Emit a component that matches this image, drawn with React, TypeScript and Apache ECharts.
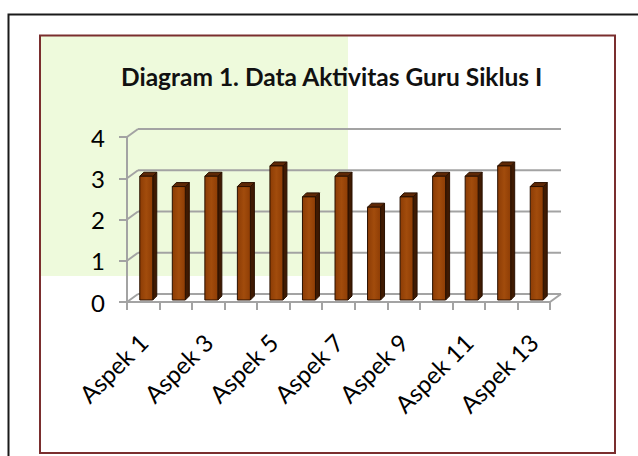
import React, { useEffect, useRef } from "react";
import * as echarts from "echarts";

const categories = [
  "Aspek 1", "Aspek 2", "Aspek 3", "Aspek 4", "Aspek 5", "Aspek 6", "Aspek 7",
  "Aspek 8", "Aspek 9", "Aspek 10", "Aspek 11", "Aspek 12", "Aspek 13",
];
const values = [3, 2.75, 3, 2.75, 3.25, 2.5, 3, 2.25, 2.5, 3, 3, 3.25, 2.75];
const yTicks = [0, 1, 2, 3, 4];
const chartTitle = "Diagram 1. Data Aktivitas Guru Siklus I";

const FONT = "Lato, 'Noto Sans', sans-serif";
const GRID_COLOR = "#a3a3a3";
const DX = 11; // depth offset x
const DY = 8; // depth offset y

export default function App() {
  const ref = useRef<HTMLDivElement>(null);
  useEffect(() => {
    if (!ref.current) return;
    const chart = echarts.init(ref.current, null, { renderer: "svg" });
    const option: any = {
      animation: false,
      backgroundColor: "#ffffff",
      title: {
        text: chartTitle,
        left: 116,
        top: 59,
        textStyle: { fontSize: 24.5, fontWeight: "bold", fontFamily: FONT, color: "#111" },
      },
      graphic: [
        {
          type: "rect",
          z: -20,
          silent: true,
          shape: { x: 8.5, y: 14.5, width: 660, height: 480 },
          style: { fill: "#ffffff", stroke: "#1a1a1a", lineWidth: 2 },
        },
        {
          type: "rect",
          z: -19,
          silent: true,
          shape: { x: 40, y: 35, width: 308, height: 241 },
          style: { fill: "#eefadc" },
        },
        {
          type: "rect",
          z: -18,
          silent: true,
          shape: { x: 40, y: 35.5, width: 575, height: 417.5 },
          style: { fill: "none", stroke: "#7a2e2e", lineWidth: 2 },
        },
      ],
      grid: { left: 127, top: 137, width: 423, height: 165, containLabel: false },
      xAxis: {
        type: "category",
        data: categories,
        boundaryGap: true,
        axisLine: { show: false },
        axisTick: { show: true, interval: 0, length: 8, lineStyle: { color: GRID_COLOR, width: 2 } },
        axisLabel: {
          interval: 1,
          rotate: 45,
          margin: 36,
          fontSize: 24,
          fontFamily: FONT,
          color: "#000",
        },
        splitLine: { show: false },
      },
      yAxis: {
        type: "value",
        min: 0,
        max: 4,
        interval: 1,
        axisLine: { show: true, lineStyle: { color: GRID_COLOR, width: 2 } },
        axisTick: { show: true, length: 8, lineStyle: { color: GRID_COLOR, width: 2 } },
        axisLabel: { margin: 22, fontSize: 24, fontFamily: FONT, color: "#000" },
        splitLine: { show: false },
      },
      series: [
        {
          type: "custom",
          name: "grid",
          silent: true,
          z: 1,
          data: yTicks.map((v) => [0, v]),
          encode: { x: 0, y: 1 },
          renderItem: (params: any, api: any) => {
            const cs = params.coordSys;
            const x0 = cs.x;
            const x1 = cs.x + cs.width;
            const v = api.value(1);
            const y = api.coord([0, v])[1];
            const ls = { stroke: GRID_COLOR, lineWidth: 2 };
            const children: any[] = [
              { type: "line", shape: { x1: x0, y1: y, x2: x0 + DX, y2: y - DY }, style: ls },
              { type: "line", shape: { x1: x0 + DX, y1: y - DY, x2: x1 + DX, y2: y - DY }, style: ls },
            ];
            if (v === 0) {
              children.push(
                { type: "line", shape: { x1: x0, y1: y, x2: x1, y2: y }, style: ls },
                { type: "line", shape: { x1: x1, y1: y, x2: x1 + DX, y2: y - DY }, style: ls }
              );
            }
            return { type: "group", children };
          },
        },
        {
          type: "custom",
          name: "Nilai",
          z: 3,
          data: values.map((v, i) => [i, v]),
          encode: { x: 0, y: 1 },
          renderItem: (params: any, api: any) => {
            const i = api.value(0);
            const v = api.value(1);
            const top = api.coord([i, v]);
            const base = api.coord([i, 0]);
            const cx = top[0];
            const xl = cx - 3.5;
            const xr = cx + 9.5;
            const yt = top[1] - 2;
            const yb = base[1] - 2;
            const d = 4;
            const e = 4;
            const outline = "#2a1100";
            return {
              type: "group",
              children: [
                {
                  type: "polygon",
                  shape: { points: [[xr, yt], [xr + d, yt - e], [xr + d, yb - e], [xr, yb]] },
                  style: { fill: "#3f1a02", stroke: outline, lineWidth: 1 },
                },
                {
                  type: "polygon",
                  shape: { points: [[xl, yt], [xl + d, yt - e], [xr + d, yt - e], [xr, yt]] },
                  style: { fill: "#5e2806", stroke: outline, lineWidth: 1 },
                },
                {
                  type: "rect",
                  shape: { x: xl, y: yt, width: xr - xl, height: yb - yt },
                  style: {
                    fill: new echarts.graphic.LinearGradient(0, 0, 1, 0, [
                      { offset: 0, color: "#8c3c05" },
                      { offset: 0.5, color: "#a24c0c" },
                      { offset: 1, color: "#8e3d05" },
                    ]),
                    stroke: outline,
                    lineWidth: 1,
                  },
                },
              ],
            };
          },
        },
      ],
    };
    chart.setOption(option);
    return () => chart.dispose();
  }, []);
  return (
    <div
      ref={ref}
      style={{ position: "absolute", left: 0, top: 0, width: 638, height: 456 }}
    />
  );
}
